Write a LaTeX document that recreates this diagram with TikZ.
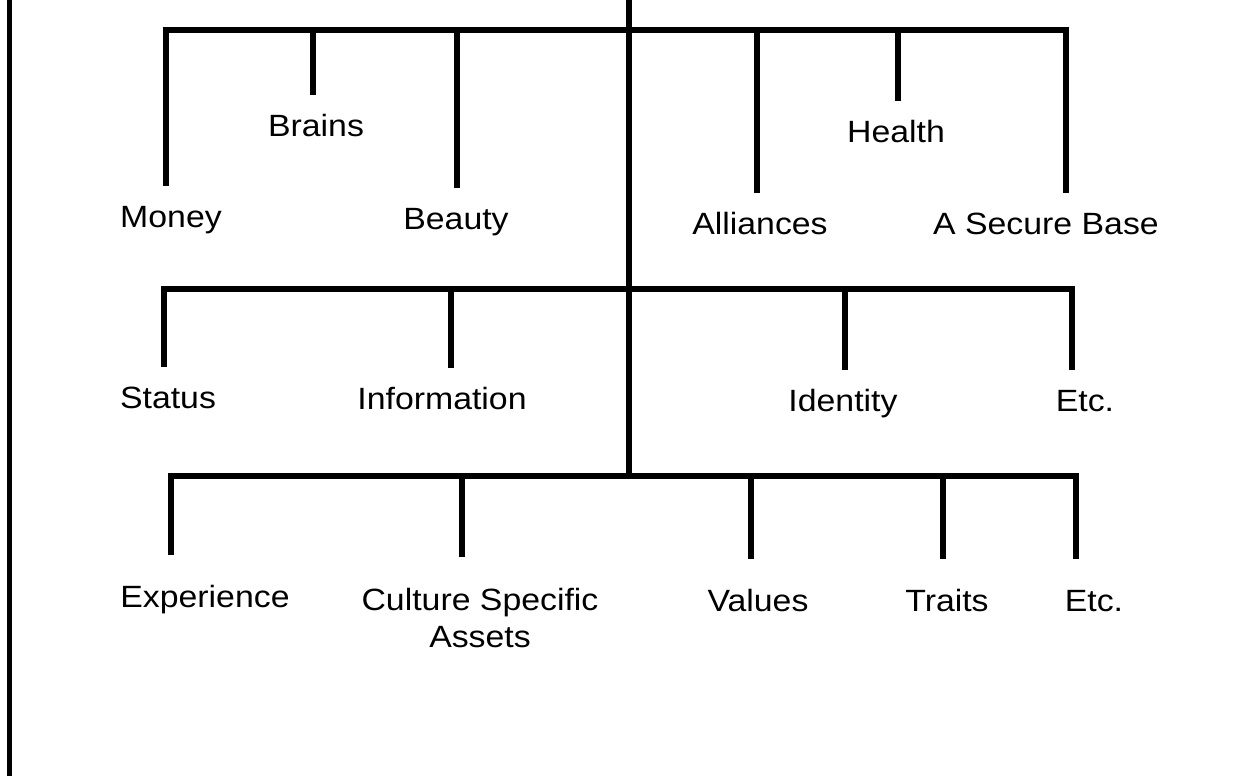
\documentclass[tikz,border=0pt]{standalone}
\usepackage{fontspec}
\setmainfont{Liberation Sans}[FakeStretch=1.1]

\begin{document}
\begin{tikzpicture}[x=0.02cm,y=-0.02cm,line width=0.13cm,
                   lbl/.style={inner sep=0pt,anchor=north,outer ysep=0.4cm,text height=0.44cm,text depth=0.12cm,
                     align=center,font=\fontsize{17.5}{21}\selectfont},
                   lowlbl/.style={lbl,outer ysep=0.62cm}]
\useasboundingbox (0,0) rectangle (1252,776);
\draw[line width=0.1cm] (9.5,0) -- (9.5,776);

% labels
\node[lbl] (money) at (171,186) {Money};
\node[lbl] (brains) at (316,95) {Brains};
\node[lbl] (beauty) at (456,188) {Beauty};
\node[lbl] (alliances) at (760,193) {Alliances};
\node[lbl] (health) at (896,101) {Health};
\node[lbl] (asb) at (1046,193) {A Secure Base};
\node[lbl] (status) at (168,367) {Status};
\node[lbl] (information) at (442,368) {Information};
\node[lbl] (identity) at (843,370) {Identity};
\node[lbl] (etc1) at (1085,370) {Etc.};
\node[lowlbl] (experience) at (205,555) {Experience};
\node[lowlbl,text height={},text depth={}] (culture) at (480,557) {Culture Specific\\Assets};
\node[lowlbl] (values) at (758,559) {Values};
\node[lowlbl] (traits) at (947,559) {Traits};
\node[lowlbl] (etc2) at (1094,559) {Etc.};

% trunk
\coordinate (root) at (629,0);
\coordinate (j3) at (629,476);
\draw (root) -- (j3);

% bars
\foreach \n/\x in {money/166,brains/313,beauty/457,alliances/757,health/898,asb/1066}
  \coordinate (t-\n) at (\x,30);
\foreach \n/\x in {status/164,information/451,identity/845,etc1/1072}
  \coordinate (t-\n) at (\x,289);
\foreach \n/\x in {experience/171,culture/462,values/751,traits/943,etc2/1076}
  \coordinate (t-\n) at (\x,476);

\draw (money.north -| t-money) -- (t-money) -- (t-asb) -- (asb.north -| t-asb);
\draw (status.north -| t-status) -- (t-status) -- (t-etc1) -- (etc1.north -| t-etc1);
\draw (experience.north -| t-experience) -- (t-experience) -- (t-etc2) -- (etc2.north -| t-etc2);
\foreach \n in {brains,beauty,alliances,health,information,identity,culture,values,traits}
  \draw (t-\n) -- (\n.north -| t-\n);
\end{tikzpicture}
\end{document}
